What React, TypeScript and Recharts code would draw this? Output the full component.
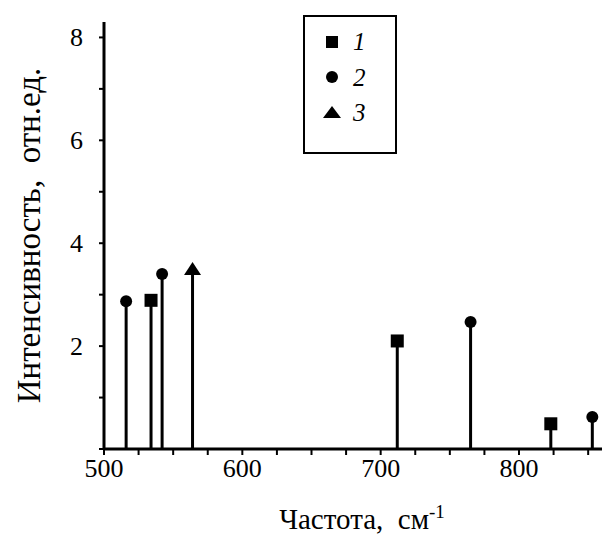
import { ComposedChart, Scatter, XAxis, YAxis, ReferenceLine } from 'recharts';

// frequencies, cm^-1, and intensities, rel. units, for each of the three samples
const freq1 = [534, 712, 823];
const int1 = [2.89, 2.1, 0.49];
const freq2 = [516, 542, 765, 853];
const int2 = [2.87, 3.4, 2.47, 0.62];
const freq3 = [564];
const int3 = [3.5];

const xTicks = [500, 525, 550, 575, 600, 625, 650, 675, 700, 725, 750, 775, 800, 825, 850];
const xLabels = [500, 600, 700, 800];
const yTicks = [0, 1, 2, 3, 4, 5, 6, 7, 8];
const yLabels = [2, 4, 6, 8];
const legendNames = ['1', '2', '3'];

const FONT = 'Liberation Serif';

const toPoints = (xs: number[], ys: number[]) => xs.map((x, i) => ({ x, y: ys[i] }));
const s1 = toPoints(freq1, int1);
const s2 = toPoints(freq2, int2);
const s3 = toPoints(freq3, int3);
const allPoints = [...s1, ...s2, ...s3];

const Square = (p: any) => <rect x={p.cx - 6.5} y={p.cy - 6.5} width={13} height={13} fill="#000" />;
const Dot = (p: any) => <circle cx={p.cx} cy={p.cy} r={6} fill="#000" />;
const Tri = (p: any) => (
  <polygon points={`${p.cx},${p.cy - 7} ${p.cx + 8.5},${p.cy + 6} ${p.cx - 8.5},${p.cy + 6}`} fill="#000" />
);

const XTick = ({ x, y, payload }: any) =>
  xLabels.includes(payload.value) ? (
    <text x={x} y={y} dy={20} textAnchor="middle" fontFamily={FONT} fontSize={26} fill="#000">
      {payload.value}
    </text>
  ) : null;

const YTick = ({ x, y, payload }: any) =>
  yLabels.includes(payload.value) ? (
    <text x={x} y={y} dy={9} textAnchor="end" fontFamily={FONT} fontSize={26} fill="#000">
      {payload.value}
    </text>
  ) : null;

const XTitle = ({ viewBox }: any) => (
  <text
    x={viewBox.x + viewBox.width / 2 + 9}
    y={529}
    textAnchor="middle"
    fontFamily={FONT}
    fontSize={29}
    fill="#000"
  >
    Частота,&nbsp; см
    <tspan fontSize={19} dy={-11}>-1</tspan>
  </text>
);

const YTitle = ({ viewBox }: any) => {
  const cy = viewBox.y + viewBox.height / 2;
  return (
    <text
      x={30}
      y={cy}
      dy={10}
      transform={`rotate(-90 30 ${cy})`}
      textAnchor="middle"
      fontFamily={FONT}
      fontSize={33}
      fill="#000"
    >
      Интенсивность,&nbsp; отн.ед.
    </text>
  );
};

const LegendBox = () => {
  const marks = [
    <rect key="s" x={3} y={3} width={12} height={12} fill="#000" />,
    <circle key="c" cx={9} cy={9} r={6} fill="#000" />,
    <polygon key="t" points="9,2 18,14 0,14" fill="#000" />,
  ];
  return (
    <div
      style={{
        position: 'absolute',
        left: 303,
        top: 15,
        border: '2px solid #000',
        width: 94,
        height: 139,
        boxSizing: 'border-box',
        paddingTop: 7,
        paddingLeft: 18,
        fontFamily: FONT,
        background: '#fff',
      }}
    >
      {legendNames.map((n, i) => (
        <div key={n} style={{ display: 'flex', alignItems: 'center', height: 35.5 }}>
          <svg width={18} height={18}>{marks[i]}</svg>
          <span style={{ fontStyle: 'italic', fontSize: 25, marginLeft: 12, lineHeight: 1 }}>{n}</span>
        </div>
      ))}
    </div>
  );
};

export default function App() {
  return (
    <div style={{ position: 'absolute', left: 0, top: 0, width: 602, height: 544, background: '#fff' }}>
      <ComposedChart width={602} height={544} margin={{ top: 22, right: 0, bottom: 0, left: 0 }}>
        <XAxis
          type="number"
          dataKey="x"
          domain={[500, 860]}
          ticks={xTicks}
          interval={0}
          allowDataOverflow
          height={95}
          tick={<XTick />}
          tickSize={6}
          axisLine={{ stroke: '#000', strokeWidth: 3 }}
          tickLine={{ stroke: '#000', strokeWidth: 2 }}
          label={<XTitle />}
        />
        <YAxis
          type="number"
          dataKey="y"
          domain={[0, 8.3]}
          ticks={yTicks}
          interval={0}
          allowDataOverflow
          width={104}
          tick={<YTick />}
          tickSize={5}
          tickMargin={16}
          axisLine={{ stroke: '#000', strokeWidth: 3 }}
          tickLine={{ stroke: '#000', strokeWidth: 2 }}
          label={<YTitle />}
        />
        {allPoints.map((p, i) => (
          <ReferenceLine
            key={`stem-${i}`}
            segment={[
              { x: p.x, y: 0 },
              { x: p.x, y: p.y },
            ]}
            stroke="#000"
            strokeWidth={3}
          />
        ))}
        <Scatter data={s1} shape={<Square />} isAnimationActive={false} />
        <Scatter data={s2} shape={<Dot />} isAnimationActive={false} />
        <Scatter data={s3} shape={<Tri />} isAnimationActive={false} />
      </ComposedChart>
      <LegendBox />
    </div>
  );
}
